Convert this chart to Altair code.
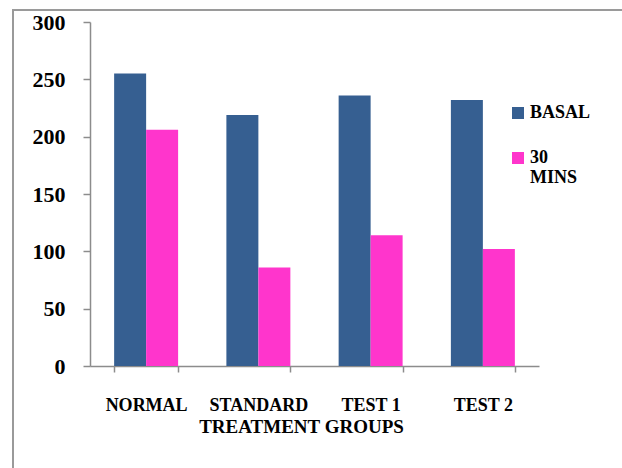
import altair as alt
import pandas as pd

groups = ["NORMAL", "STANDARD", "TEST 1", "TEST 2"]
series = ["BASAL", "30 MINS"]
basal = [255, 219, 236, 232]
mins30 = [206, 86, 114, 102]
colors = ["#365F91", "#FF35CC"]

rows = []
for g, b, m in zip(groups, basal, mins30):
    rows.append({"group": g, "series": series[0], "value": b})
    rows.append({"group": g, "series": series[1], "value": m})
df = pd.DataFrame(rows)

FONT = "Liberation Serif"

bars = alt.Chart(df).mark_bar().encode(
    x=alt.X(
        "group:N",
        sort=groups,
        scale=alt.Scale(paddingInner=0.43, paddingOuter=0.215),
        axis=alt.Axis(
            title="TREATMENT GROUPS",
            titleX=211,
            titleY=66,
            titleAlign="center",
            titleBaseline="alphabetic",
            titleFont=FONT,
            titleFontSize=19,
            titleFontWeight="bold",
            titleColor="black",
            labelAngle=0,
            labelFont=FONT,
            labelFontSize=18,
            labelFontWeight="bold",
            labelColor="black",
            labelBaseline="alphabetic",
            labelPadding=38,
            tickBand="extent",
            tickSize=6,
            tickColor="#8c8c8c",
            tickWidth=1.5,
            domainColor="#8c8c8c",
            domainWidth=1.5,
        ),
    ),
    xOffset=alt.XOffset("series:N", sort=series,
                        scale=alt.Scale(paddingInner=0, paddingOuter=0)),
    y=alt.Y(
        "value:Q",
        scale=alt.Scale(domain=[0, 300], nice=False),
        axis=alt.Axis(
            title=None,
            values=[0, 50, 100, 150, 200, 250, 300],
            grid=False,
            labelFont=FONT,
            labelFontSize=22,
            labelFontWeight="bold",
            labelColor="black",
            labelPadding=18,
            tickSize=7,
            tickColor="#8c8c8c",
            tickWidth=1.5,
            domainColor="#8c8c8c",
            domainWidth=1.5,
        ),
    ),
    color=alt.Color(
        "series:N",
        sort=series,
        scale=alt.Scale(domain=series, range=colors),
        legend=alt.Legend(
            title=None,
            orient="none",
            legendX=419,
            legendY=82,
            padding=0,
            symbolType="square",
            symbolSize=144,
            symbolStrokeWidth=0,
            labelFont=FONT,
            labelFontSize=18,
            labelFontWeight="bold",
            labelColor="black",
            labelBaseline="middle",
            labelOffset=3,
            rowPadding=27,
            labelExpr="datum.label == '30 MINS' ? ['30', 'MINS'] : datum.label",
        ),
    ),
)

# outer frame around the chart area
frame = alt.Chart(pd.DataFrame({"k": [0]})).mark_rect(
    fill=None, stroke="#9a9a9a", strokeWidth=2
).encode(
    x=alt.value(-77), x2=alt.value(545), y=alt.value(-12), y2=alt.value(460)
)

chart = alt.layer(frame, bars).properties(
    width=449,
    height=344,
    autosize=alt.AutoSizeParams(type="none"),
    padding={"left": 90, "top": 22, "right": 83, "bottom": 102},
    background="white",
).configure_view(stroke=None)

chart.save("out.html", embed_options={"renderer": "svg", "actions": False})
